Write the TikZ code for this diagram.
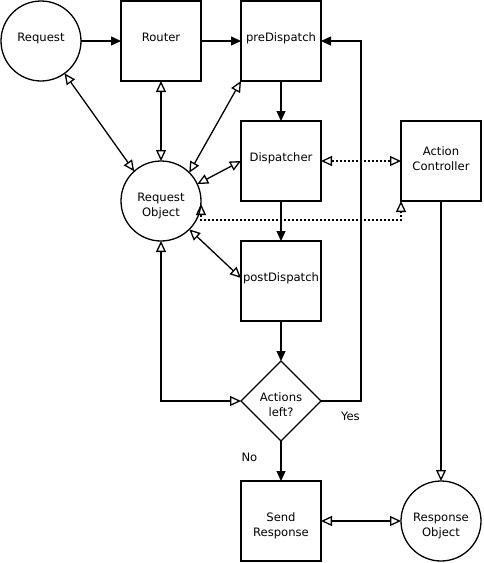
\documentclass[tikz,border=0pt]{standalone}
\usepackage{fontspec}
\setmainfont{DejaVu Sans}
\usetikzlibrary{arrows.meta,shapes.geometric}
\begin{document}
\begin{tikzpicture}[x=1pt,y=-1pt,
  every node/.style={inner sep=0pt,outer sep=0pt},
  box/.style={draw,line width=1.3pt,rectangle,minimum width=80pt,minimum height=80pt},
  circ/.style={draw,line width=1.3pt,circle,minimum size=80pt},
  dia/.style={draw,line width=1.3pt,diamond,minimum width=80pt,minimum height=80pt},
  txt/.style={font=\fontsize{11.6}{15}\selectfont,anchor=base},
  lineone/.style={txt,yshift=-0.5pt},
  linetwo/.style={txt,yshift=-15.5pt},
  ln/.style={line width=1.3pt},
  fa/.style={ln,-{Triangle[length=10pt,width=9pt]}},
  oa/.style={ln,{Triangle[open,length=11pt,width=10pt]}-{Triangle[open,length=11pt,width=10pt]}},
  oe/.style={ln,-{Triangle[open,length=11pt,width=10pt]}},
  dotl/.style={dash pattern=on 2pt off 2pt}
]
\useasboundingbox (0,0) rectangle (483,563);

% shapes
\node[circ] (req) at (41,41) {};
\node[box] (router) at (161,41) {};
\node[box] (pre) at (281,41) {};
\node[box] (disp) at (281,161) {};
\node[box] (ac) at (441,161) {};
\node[circ] (ro) at (161,201) {};
\node[box] (post) at (281,281) {};
\node[dia] (act) at (281,401) {};
\node[box] (send) at (281,521) {};
\node[circ] (resp) at (441,521) {};

% texts
\node[lineone] (reqT) at (req.center) {Request};
\node[lineone] (routerT) at (router.center) {Router};
\node[lineone] (preT) at (pre.center) {preDispatch};
\node[lineone] (dispT) at (disp.center) {Dispatcher};
\node[txt,yshift=6pt] (acT1) at (ac.center) {Action};
\node[txt,yshift=-9pt] (acT2) at (ac.center) {Controller};
\node[lineone] (roT1) at (ro.center) {Request};
\node[linetwo] (roT2) at (ro.center) {Object};
\node[lineone] (postT) at (post.center) {postDispatch};
\node[lineone] (actT1) at (act.center) {Actions};
\node[linetwo] (actT2) at (act.center) {left?};
\node[lineone] (sendT1) at (send.center) {Send};
\node[linetwo] (sendT2) at (send.center) {Response};
\node[lineone] (respT1) at (resp.center) {Response};
\node[linetwo] (respT2) at (resp.center) {Object};

% main flow
\draw[fa] (req.east) -- (router.west);
\draw[fa] (router.east) -- (pre.west);
\draw[fa] (pre.south) -- (disp.north);
\draw[fa] (disp.south) -- (post.north);
\draw[fa] (post.south) -- (act.north);
\draw[fa] (act.south) -- (send.north);
\draw[fa] (act.east) -- ++(40,0) |- (pre.east);
\node[txt,anchor=base west] (no) at (241.5,461) {No};
\node[txt,anchor=base west] (yes) at (341,420) {Yes};

% request object links
\draw[oa] (req.-54) -- (ro.132);
\draw[oa] (router.south) -- (ro.north);
\draw[oa] (pre.south west) -- (ro.45);
\draw[oa] (disp.west) -- (ro.25);
\draw[oa] ([yshift=3pt]post.west) -- (ro.-45);
\draw[oa] (ro.south) |- (act.west);

% dotted links
\draw[oa,dotl] (disp.east) -- (ac.west);
\coordinate (roD) at ([yshift=-3pt]ro.east);
\coordinate (dotY) at (0,220);
\draw[oa,dotl] (roD) -- (roD |- dotY) -| (ac.south west);

% response
\draw[oe] (ac.south) -- (resp.north);
\draw[oa] (send.east) -- (resp.west);
\end{tikzpicture}
\end{document}
